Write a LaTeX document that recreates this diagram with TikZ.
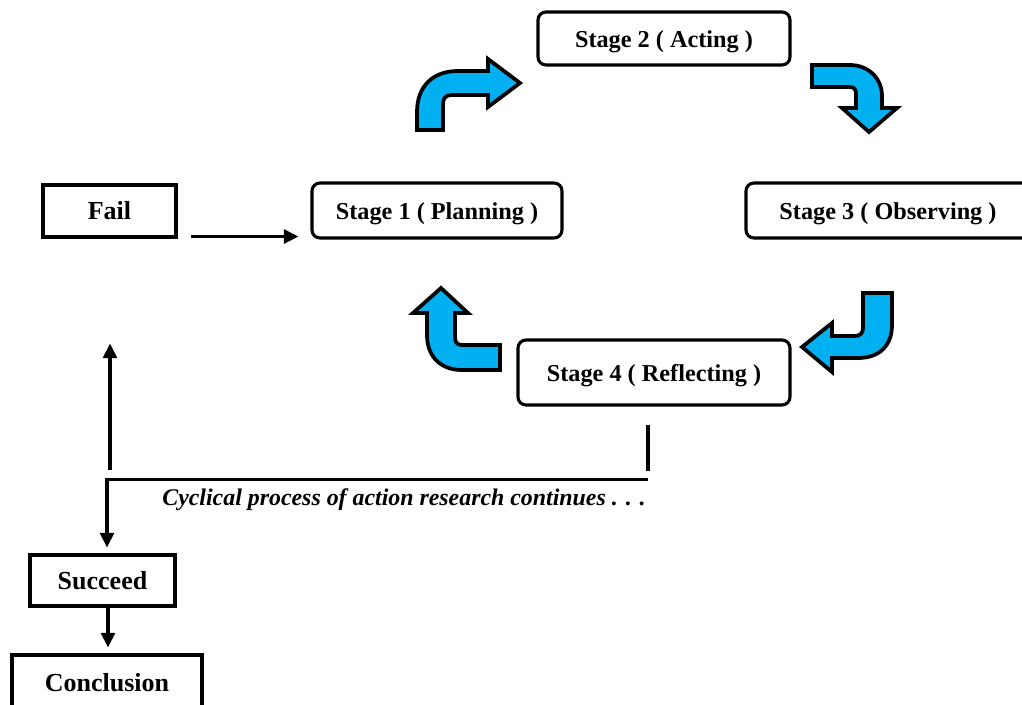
\documentclass[tikz,border=0pt]{standalone}
\usepackage{fontspec}
\setmainfont{Liberation Serif}
\usetikzlibrary{arrows.meta}
\definecolor{bluearrow}{HTML}{00B0F0}
\tikzset{
  stagebox/.style={draw, line width=2.3pt, rounded corners=6pt, inner sep=0pt,
    text height=13pt, text depth=0pt,
    font=\fontsize{18.2}{21}\selectfont\bfseries},
  plainbox/.style={draw, line width=2.3pt, inner sep=0pt,
    font=\fontsize{19.5}{22}\selectfont\bfseries},
  conn/.style={line width=2.3pt, -{Triangle[length=11pt,width=10.5pt]}},
  plainline/.style={line width=2.3pt},
  blockarrow/.style={draw=black, fill=bluearrow, line width=2.8pt, line join=miter}
}
\begin{document}
\begin{tikzpicture}[x=0.75pt,y=-0.75pt]
\useasboundingbox (0,0) rectangle (1022,704);
\clip (0,0) rectangle (1022,704);
% nodes
\node[stagebox, minimum width=189pt, minimum height=39.75pt] (s2) at (664,38.5) {Stage 2 ( Acting )};
\node[stagebox, minimum width=187.5pt, minimum height=41.25pt] (s1) at (437,210.5) {Stage 1 ( Planning )};
\node[stagebox, minimum width=213pt, minimum height=41.25pt] (s3) at (888,210.5) {Stage 3 ( Observing )};
\node[stagebox, minimum width=204pt, minimum height=48.75pt] (s4) at (654,372.5) {Stage 4 ( Reflecting )};
\node[plainbox, minimum width=99.75pt, minimum height=39pt] (fail) at (109.5,211) {Fail};
\node[plainbox, minimum width=108.75pt, minimum height=38.25pt] (succ) at (102.5,580.5) {Succeed};
\node[plainbox, minimum width=142.5pt, minimum height=42pt] (concl) at (107,683) {Conclusion};
\node[font=\fontsize{17.9}{21}\selectfont\bfseries\itshape] (cyc) at (404,500) {Cyclical process of action research continues . . .};
% connectors
\draw[conn] ([shift={(13,-2)}]fail.south east) -- ([shift={(-12,-3)}]s1.south west);
\draw[plainline] ([shift={(-6,18)}]s4.south) -- ([shift={(-6,64)}]s4.south);
\draw[conn] ([shift={(-6,73)}]s4.south) -| ([shift={(4.5,-6)}]succ.north);
\draw[conn] ([shift={(0.5,231)}]fail.south) -- ([shift={(0.5,105)}]fail.south);
\draw[conn] ([xshift=5.5*0.75pt]succ.south) -- ([shift={(1,-6)}]concl.north);
% curved block arrows
\draw[blockarrow] (417,130) -- (417,112) .. controls (417,86) and (433,71) .. (458,71) -- (488,71) -- (488,59) -- (520,83) -- (488,107) -- (488,95) -- (452,95) .. controls (446,95) and (443,98) .. (443,104) -- (443,130) -- cycle;
\draw[blockarrow] (812,65) -- (850,65) .. controls (868,65) and (882,78) .. (882,96) -- (882,108) -- (897,108) -- (869,132) -- (842,108) -- (856,108) -- (856,94) .. controls (856,89) and (854,87) .. (849,87) -- (812,87) -- cycle;
\draw[blockarrow] (863,293) -- (892,293) -- (892,325) .. controls (892,345) and (880,358) .. (858,358) -- (832,358) -- (832,372) -- (802,347) -- (832,323) -- (832,336) -- (855,336) .. controls (860,336) and (863,333) .. (863,328) -- cycle;
\draw[blockarrow] (500,345) -- (462,345) .. controls (457,345) and (455,342) .. (455,337) -- (455,313) -- (468,313) -- (441,288) -- (413,313) -- (427,313) -- (427,335) .. controls (427,356) and (440,370) .. (462,370) -- (500,370) -- cycle;
\end{tikzpicture}
\end{document}
